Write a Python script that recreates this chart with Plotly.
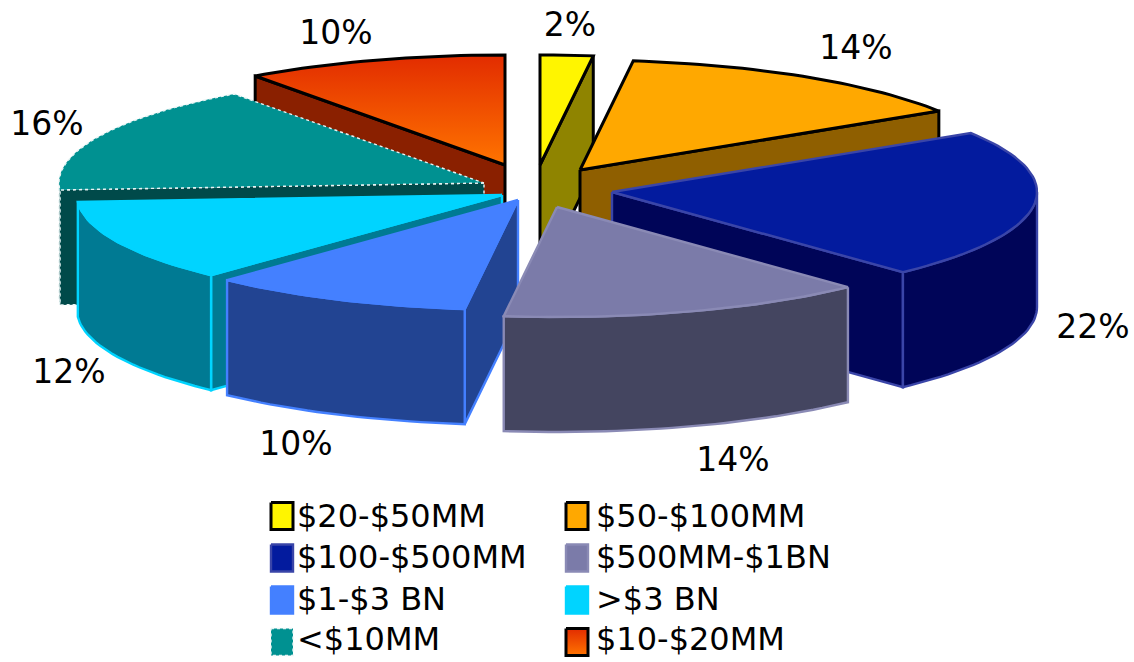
import numpy as np
import plotly.graph_objects as go

# --- data ---
categories = ["$20-$50MM", "$50-$100MM", "$100-$500MM", "$500MM-$1BN",
              "$1-$3 BN", ">$3 BN", "<$10MM", "$10-$20MM"]
percents = [2, 14, 22, 14, 10, 12, 16, 10]

# --- styling ---
TOP = ["#FFF500", "#FFA800", "#031B9E", "#7B7BA9", "#4480FF", "#00D4FF", "#009191", "#FF7000"]
SIDE = ["#8F8400", "#8F5F00", "#000558", "#444560", "#224492", "#007A93", "#004A4A", "#8A2000"]
EDGE = ["#000000", "#000000", "#3A45A8", "#8A8AB5", "#4480FF", "#00D4FF", "#E8F4F4", "#000000"]
EDGE_W = [3, 3, 2.4, 2.4, 2.4, 2.4, 1.4, 3]
EDGE_DASH = ["solid"] * 6 + ["dot", "solid"]
GRADIENT = {7: ["#FF7400", "#E22C00"]}
# exploded apex of each slice (pixel frame), ellipse radii and wall depth
APEX_X = [540, 580, 612, 557, 518, 502, 484, 505]
APEX_Y = [165, 170, 192, 207, 200, 195, 183, 165]
RX, RY, DEPTH = 425, 110, 115
DRAW_ORDER = [7, 0, 1, 6, 2, 5, 4, 3]
LABEL_X = [570, 856, 1093, 733, 296, 69, 47, 336]
LABEL_Y = [28, 51, 330, 463, 447, 375, 127, 36]
LEG_X = [271, 566]
LEG_TEXT_X = [297, 596]
LEG_Y = [516, 558, 600, 642]
LEG_TEXT_Y = [519, 560, 602, 642]
SW_W, SW_H = 22, 27
FONT = dict(family="DejaVu Sans", size=33, color="#000000")
LEG_FONT = dict(family="DejaVu Sans", size=32, color="#000000")

ends = np.cumsum(percents) * 3.6
starts = ends - np.array(percents) * 3.6
fig = go.Figure()


def poly(xs, ys, fill, i, gradient=None):
    kw = dict(fillcolor=fill)
    if gradient:
        kw = dict(fillgradient=dict(type="vertical",
                                    colorscale=[[0, gradient[0]], [1, gradient[1]]]))
    fig.add_trace(go.Scatter(
        x=list(xs) + [xs[0]], y=list(ys) + [ys[0]], mode="lines", fill="toself",
        line=dict(color=EDGE[i], width=EDGE_W[i], dash=EDGE_DASH[i]),
        hoverinfo="skip", showlegend=False, **kw))


def arc(i, a0, a1):
    n = max(2, int(abs(a1 - a0) / 1.5) + 1)
    t = np.radians(np.linspace(a0, a1, n))
    return APEX_X[i] + RX * np.sin(t), APEX_Y[i] - RY * np.cos(t)


for i in DRAW_ORDER:
    a0, a1 = starts[i], ends[i]
    # radial walls that face the viewer
    for ang, vis in ((a0, -np.sin(np.radians(a0)) > 1e-6), (a1, np.sin(np.radians(a1)) > 1e-6)):
        if vis:
            ex, ey = arc(i, ang, ang)
            ex, ey = ex[0], ey[0]
            poly([APEX_X[i], ex, ex, APEX_X[i]],
                 [APEX_Y[i], ey, ey + DEPTH, APEX_Y[i] + DEPTH], SIDE[i], i)
    # curved rim on the near half of the ellipse
    r0, r1 = max(a0, 90), min(a1, 270)
    if r1 > r0:
        ax, ay = arc(i, r0, r1)
        poly(list(ax) + list(ax[::-1]), list(ay) + list((ay + DEPTH)[::-1]), SIDE[i], i)
    # top face
    ax, ay = arc(i, a0, a1)
    poly([APEX_X[i]] + list(ax), [APEX_Y[i]] + list(ay), TOP[i], i, gradient=GRADIENT.get(i))

# percent labels
fig.add_trace(go.Scatter(x=LABEL_X, y=LABEL_Y, mode="text",
                         text=[f"{p}%" for p in percents], textposition="middle center",
                         textfont=FONT, hoverinfo="skip", showlegend=False))

# legend, two columns filled row by row
for i, name in enumerate(categories):
    lx, ly = LEG_X[i % 2], LEG_Y[i // 2]
    poly([lx, lx + SW_W, lx + SW_W, lx],
         [ly - SW_H / 2, ly - SW_H / 2, ly + SW_H / 2, ly + SW_H / 2],
         TOP[i], i, gradient=GRADIENT.get(i))
    fig.add_trace(go.Scatter(x=[LEG_TEXT_X[i % 2]], y=[LEG_TEXT_Y[i // 2]], mode="text", text=[name],
                             textposition="middle right", textfont=LEG_FONT,
                             hoverinfo="skip", showlegend=False))

fig.update_layout(
    width=1134, height=662, margin=dict(l=0, r=0, t=0, b=0),
    paper_bgcolor="#FFFFFF", plot_bgcolor="#FFFFFF", showlegend=False,
    xaxis=dict(range=[0, 1134], visible=False, fixedrange=True),
    yaxis=dict(range=[662, 0], visible=False, fixedrange=True),
)
fig.write_html("out.html", config=dict(displayModeBar=False),
               post_script="document.body.style.margin='0';")
